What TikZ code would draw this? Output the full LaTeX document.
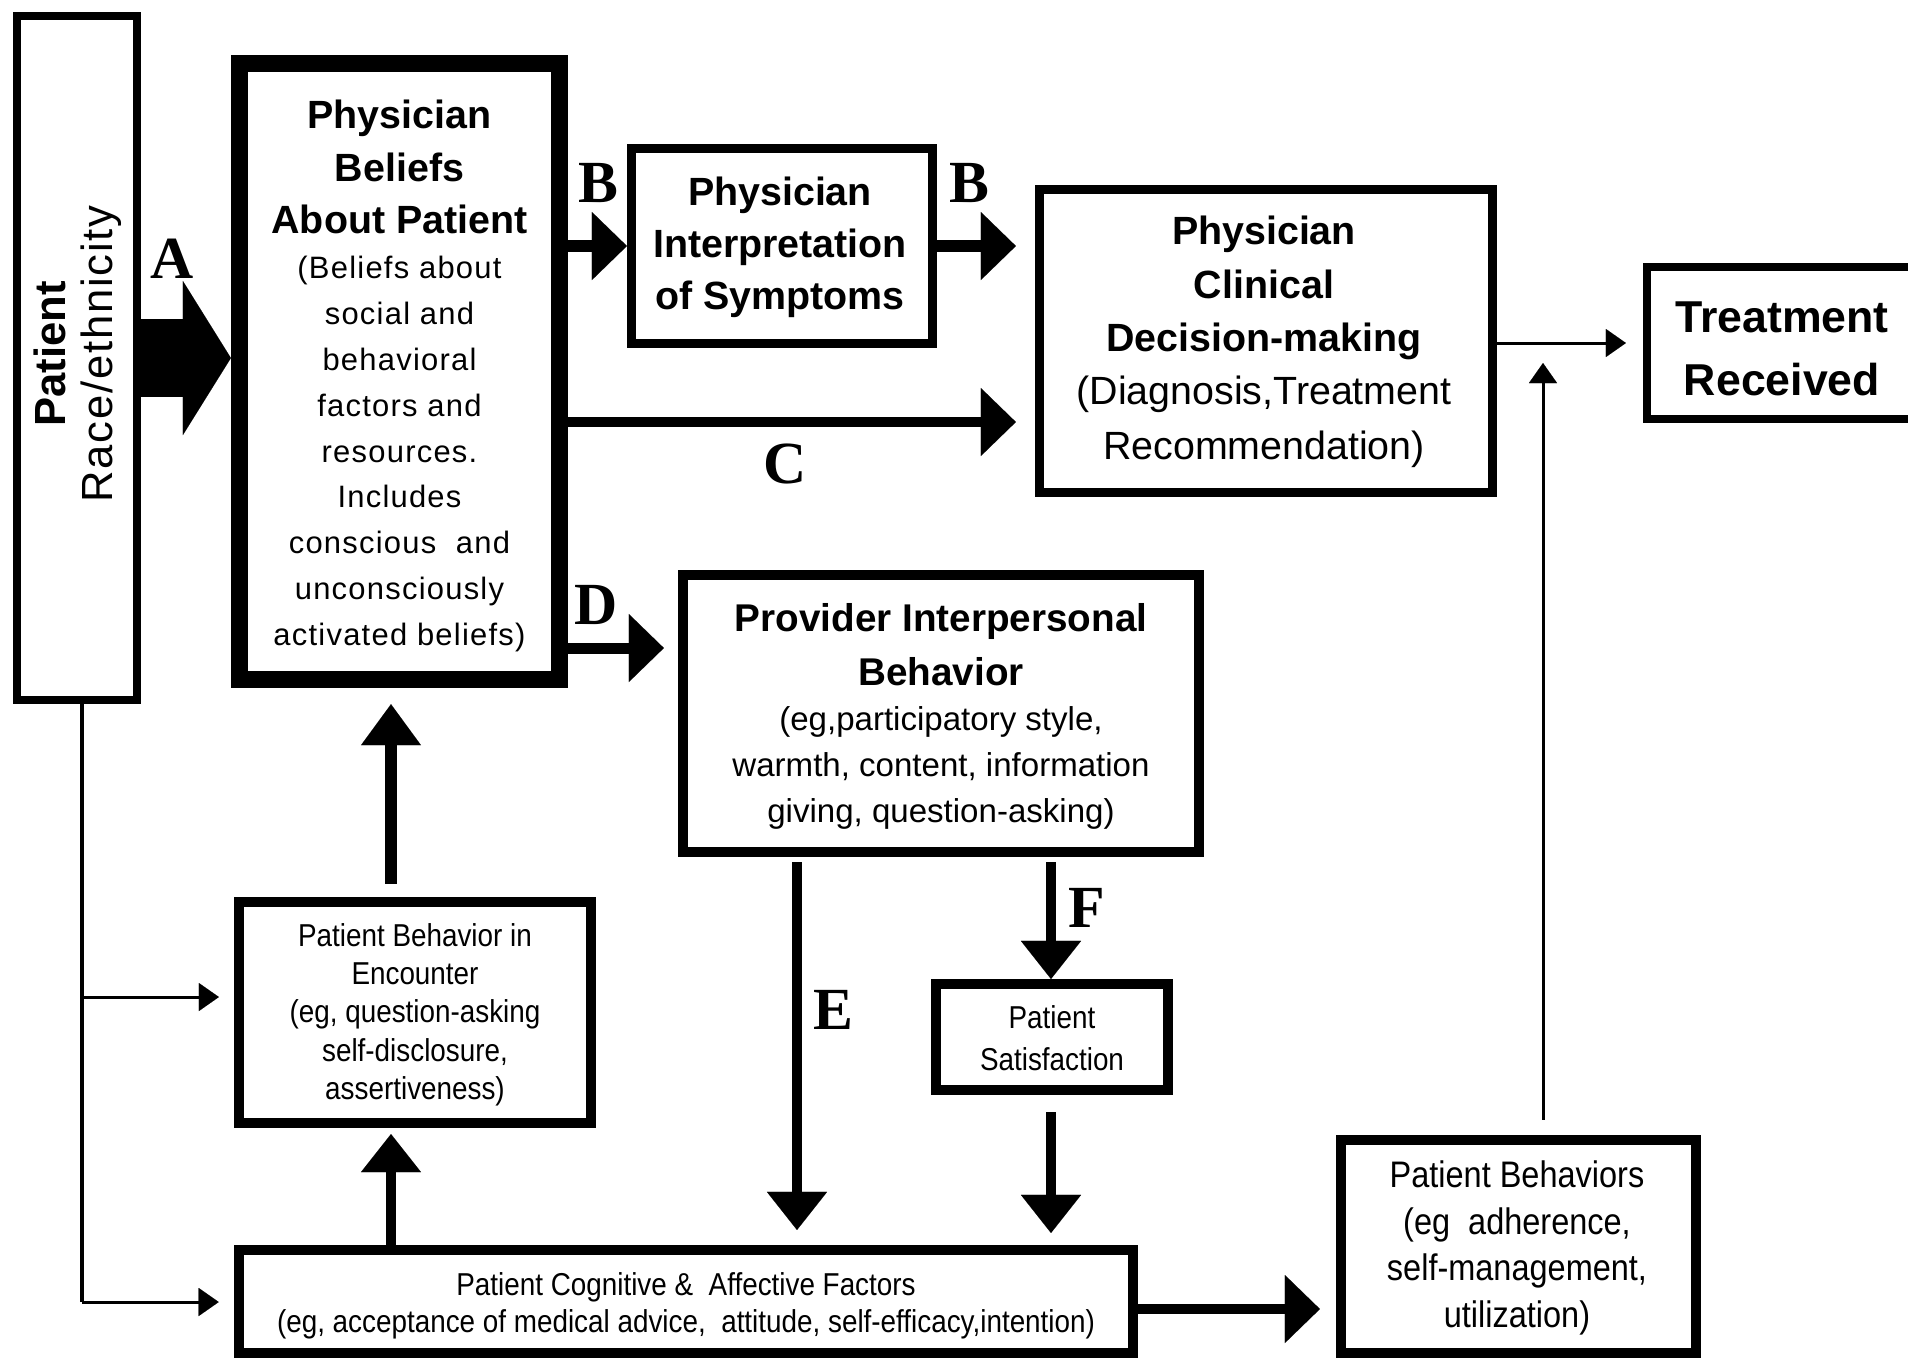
\documentclass[tikz,border=0pt]{standalone}
\usepackage{fontspec}
\setmainfont{Liberation Sans}
\newfontfamily\lblfont{Liberation Serif}
\newfontfamily\narrowfont[FakeStretch=0.88]{Liberation Sans}
\newfontfamily\spacedfont[LetterSpace=4]{Liberation Sans}
\usetikzlibrary{arrows.meta}
\begin{document}
\begin{tikzpicture}[x=0.01cm,y=-0.01cm,
  box/.style={draw, line width=0.1cm, rectangle, inner sep=0pt},
  ttl/.style={align=center, inner sep=0pt, font=\bfseries\fontsize{11.2}{15}\selectfont},
  lbl/.style={inner sep=0pt, font=\lblfont\bfseries\fontsize{17}{17}\selectfont},
  small/.style={align=center, inner sep=0pt, font=\narrowfont\fontsize{9}{10.9}\selectfont},
  fath/.style={line width=0.12cm, -{Triangle[length=0.35cm,width=0.68cm,line width=0.01pt]}},
  fatv/.style={line width=0.10cm, -{Triangle[length=0.38cm,width=0.60cm,line width=0.01pt]}},
  thinline/.style={line width=0.03cm},
  thinarr/.style={line width=0.03cm, -{Triangle[length=0.20cm,width=0.28cm,line width=0.01pt]}}
]
\clip (0,0) rectangle (1908,1362);
\fill[white] (0,0) rectangle (1908,1362);

% boxes
\node[box, line width=0.08cm, minimum width=1.2cm, minimum height=6.84cm] (race) at (77,358) {};
\node[box, line width=0.17cm, minimum width=3.2cm, minimum height=6.16cm] (bel) at (399.5,371.5) {};
\node[box, line width=0.09cm, minimum width=3.01cm, minimum height=1.95cm] (int) at (782,246) {};
\node[box, line width=0.09cm, minimum width=4.53cm, minimum height=3.03cm] (dec) at (1266,341) {};
\node[box, line width=0.08cm, minimum width=2.78cm, minimum height=1.52cm] (trt) at (1786,343) {};
\node[box, minimum width=5.16cm, minimum height=2.77cm] (prov) at (941,713.5) {};
\node[box, minimum width=2.32cm, minimum height=1.06cm] (sat) at (1052,1037) {};
\node[box, minimum width=3.52cm, minimum height=2.21cm] (enc) at (415,1012.5) {};
\node[box, minimum width=8.94cm, minimum height=1.03cm] (cog) at (686,1301.5) {};
\node[box, minimum width=3.55cm, minimum height=2.13cm] (beh) at (1518.5,1246.5) {};

% texts
\node[rotate=90, align=center, inner sep=0pt, font=\fontsize{12.4}{13.4}\selectfont] (race-t) at (77.5,354) {{\bfseries Patient}\\{\spacedfont Race/ethnicity}};
\node[ttl] (bel-t) at (399.5,167) {Physician\\Beliefs\\About Patient};
\node[align=center, inner sep=0pt, font=\spacedfont\fontsize{8.8}{13.05}\selectfont] (bel-b) at (399.5,454) {(Beliefs about\\social and\\behavioral\\factors and\\resources.\\Includes\\conscious~~and\\unconsciously\\activated beliefs)};
\node[ttl, font=\bfseries\fontsize{11.2}{14.8}\selectfont] (int-t) at (780,247) {Physician\\Interpretation\\of Symptoms};
\node[ttl, font=\bfseries\fontsize{11.2}{15.3}\selectfont] (dec-t) at (1264,288) {Physician\\Clinical\\Decision-making};
\node[align=center, inner sep=0pt, font=\fontsize{11.2}{15.5}\selectfont] (dec-b) at (1264,422) {(Diagnosis,Treatment\\Recommendation)};
\node[ttl, font=\bfseries\fontsize{12.7}{17.9}\selectfont] (trt-t) at (1782,349) {Treatment\\Received};
\node[ttl, font=\bfseries\fontsize{11}{15.3}\selectfont] (prov-t) at (941,645) {Provider Interpersonal\\Behavior};
\node[align=center, inner sep=0pt, font=\fontsize{9.4}{13.1}\selectfont] (prov-b) at (941,768) {(eg,participatory style,\\warmth, content, information\\giving, question-asking)};
\node[small] (enc-t) at (415,1014.5) {Patient Behavior in\\Encounter\\(eg, question-asking\\self-disclosure,\\assertiveness)};
\node[small, font=\narrowfont\fontsize{9}{10.5}\selectfont] (cog-t) at (686,1305.5) {Patient Cognitive \&~ Affective Factors\\(eg, acceptance of medical advice,~ attitude, self-efficacy,intention)};
\node[small, font=\narrowfont\fontsize{9}{12}\selectfont] (sat-t) at (1052,1038) {Patient\\Satisfaction};
\node[small, font=\narrowfont\fontsize{10.5}{13.3}\selectfont] (beh-t) at (1517,1248) {Patient Behaviors\\(eg~ adherence,\\self-management,\\utilization)};

% helper coordinates
\coordinate (rowC) at (1000,422);
\coordinate (rowD) at (620,648);
\coordinate (colE) at (797,900);
\coordinate (colF) at (1051,900);
\coordinate (colU) at (391,800);
\coordinate (rowG) at (1200,1309);
\coordinate (v1) at (82,997);
\coordinate (v2) at (82,1302);
\coordinate (rowT) at (1560,343);
\coordinate (tv) at (1543,363);

% connectors
\draw[line width=0.78cm, -{Triangle[length=0.48cm,width=1.54cm,line width=0.01pt]}] (race.east) -- (bel.west |- race.east);
\draw[fath] (bel.east |- int.west) -- (int.west);
\draw[fath, shorten >=0.19cm] (int.east) -- (dec.west |- int.east);
\draw[fath, line width=0.10cm, shorten >=0.19cm] (bel.east |- rowC) -- (dec.west |- rowC);
\draw[fath, line width=0.11cm, shorten >=0.14cm] (bel.east |- rowD) -- (prov.west |- rowD);
\draw[fatv, shorten <=0.05cm, shorten >=0.15cm] (prov.south -| colE) -- (cog.north -| colE);
\draw[fatv, shorten <=0.05cm] (prov.south -| colF) -- (sat.north -| colF);
\draw[fatv, shorten <=0.17cm, shorten >=0.12cm] (sat.south -| colF) -- (cog.north -| colF);
\draw[fath, line width=0.10cm, shorten >=0.16cm] (cog.east |- rowG) -- (beh.west |- rowG);
\draw[fatv, line width=0.11cm, -{Triangle[length=0.41cm,width=0.60cm,line width=0.01pt]}, shorten <=0.13cm, shorten >=0.16cm] (enc.north -| colU) -- (bel.south -| colU);
\draw[fatv, shorten >=0.06cm] (cog.north -| colU) -- (enc.south -| colU);
\draw[thinline] (race.south -| v2) -- (v2);
\draw[thinarr, shorten >=0.15cm] (v1) -- (enc.west |- v1);
\draw[thinarr, shorten >=0.15cm] (v2) -- (cog.west |- v2);
\draw[thinarr, shorten >=0.17cm] (dec.east |- rowT) -- (trt.west |- rowT);
\draw[thinarr, shorten <=0.15cm] (beh.north -| tv) -- (tv);

% labels
\node[lbl] (lA) at (172,259) {A};
\node[lbl] (lB1) at (598,183) {B};
\node[lbl] (lB2) at (969,183) {B};
\node[lbl] (lC) at (785,464) {C};
\node[lbl] (lD) at (596,605) {D};
\node[lbl] (lE) at (833,1010) {E};
\node[lbl] (lF) at (1087,908) {F};
\end{tikzpicture}
\end{document}
